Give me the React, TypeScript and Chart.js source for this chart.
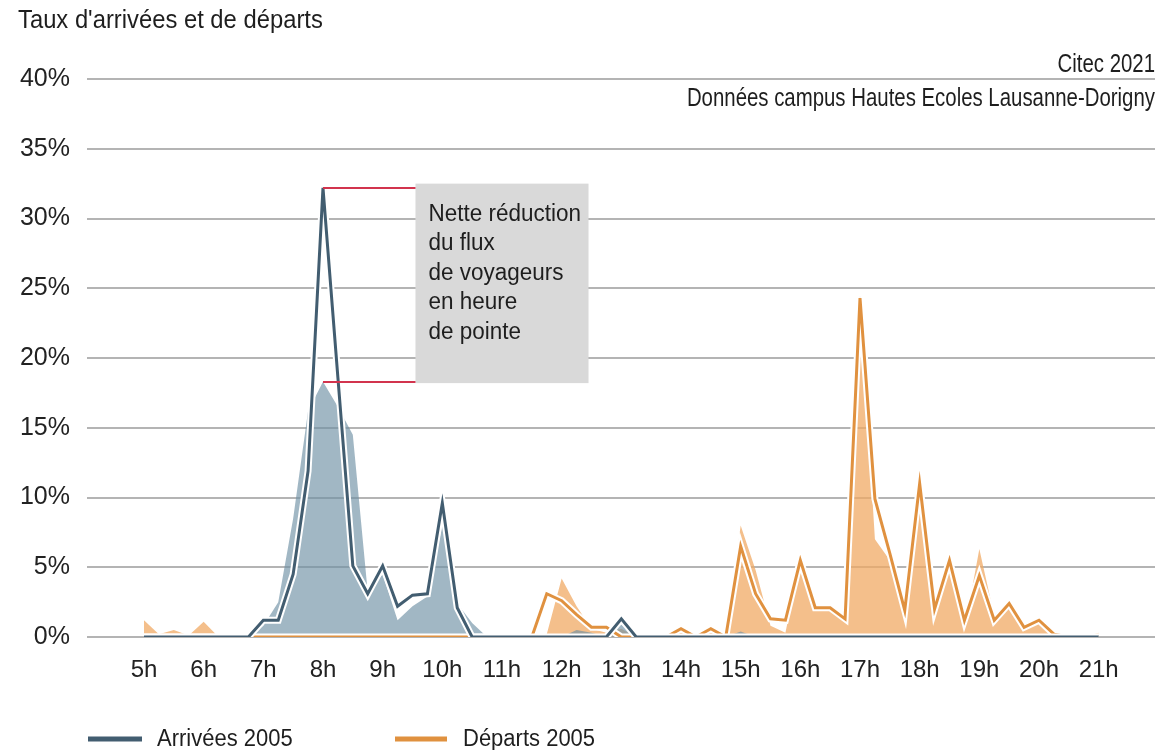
import React, { useEffect, useRef } from 'react';
import { Chart, registerables } from 'chart.js';

Chart.register(...registerables);

// ---- Data (quarter-hour steps) ----
const hours = [
  5, 5.25, 5.5, 5.75, 6, 6.25, 6.5, 6.75, 7, 7.25, 7.5, 7.75, 8, 8.25, 8.5, 8.75,
  9, 9.25, 9.5, 9.75, 10, 10.25, 10.5, 10.75, 11, 11.25, 11.5, 11.75, 12, 12.25, 12.5, 12.75,
  13, 13.25, 13.5, 13.75, 14, 14.25, 14.5, 14.75, 15, 15.25, 15.5, 15.75, 16, 16.25, 16.5, 16.75,
  17, 17.25, 17.5, 17.75, 18, 18.25, 18.5, 18.75, 19, 19.25, 19.5, 19.75, 20, 20.25, 20.5, 20.75, 21,
];

const arrivees2005 = [
  0, 0, 0, 0, 0, 0, 0, 0, 1.2, 1.2, 4.5, 11.9, 32.2, 18.6, 5.1, 3.1,
  5.1, 2.2, 3.0, 3.1, 9.6, 2.1, 0, 0, 0, 0, 0, 0, 0, 0, 0, 0,
  1.3, 0, 0, 0, 0, 0, 0, 0, 0, 0, 0, 0, 0, 0, 0, 0,
  0, 0, 0, 0, 0, 0, 0, 0, 0, 0, 0, 0, 0, 0, 0, 0, 0,
];

const departs2005 = [
  0, 0, 0, 0, 0, 0, 0, 0, 0, 0, 0, 0, 0, 0, 0, 0,
  0, 0, 0, 0, 0, 0, 0, 0, 0, 0, 0, 3.1, 2.6, 1.6, 0.7, 0.7,
  0, 0, 0, 0, 0.6, 0, 0.6, 0, 6.5, 3.1, 1.3, 1.2, 5.5, 2.1, 2.1, 1.3,
  24.3, 9.9, 6.0, 1.9, 11.0, 2.0, 5.5, 1.2, 4.4, 1.2, 2.4, 0.7, 1.2, 0.2, 0, 0, 0,
];

const arrivees2021 = [
  0, 0, 0, 0, 0, 0, 0, 0, 0.8, 2.5, 8.5, 16.2, 18.3, 16.5, 14.5, 3.2,
  4.5, 1.2, 2.2, 2.9, 8.0, 2.4, 1.0, 0, 0, 0, 0, 0, 0, 0.5, 0.3, 0,
  0.9, 0, 0, 0, 0, 0, 0, 0, 0.4, 0, 0, 0, 0, 0, 0, 0,
  0, 0, 0, 0, 0, 0, 0, 0, 0, 0, 0, 0, 0, 0, 0, 0, 0,
];

const departs2021 = [
  1.2, 0.2, 0.5, 0.1, 1.1, 0, 0, 0, 0, 0, 0, 0, 0, 0, 0, 0,
  0, 0, 0, 0, 0, 0, 0, 0, 0, 0, 0, 0.2, 4.2, 2.2, 0.6, 0.3,
  0.6, 0, 0, 0, 0.3, 0, 0.3, 0, 8.0, 4.8, 0.8, 0.3, 5.5, 2.0, 2.0, 1.2,
  24.5, 7.0, 5.5, 1.9, 11.0, 2.0, 5.5, 0.5, 6.3, 1.5, 2.4, 0.7, 1.2, 0.2, 0, 0, 0.3,
];

const tickHours = [5, 6, 7, 8, 9, 10, 11, 12, 13, 14, 15, 16, 17, 18, 19, 20, 21];
const tickLabels = ['5h', '6h', '7h', '8h', '9h', '10h', '11h', '12h', '13h', '14h', '15h', '16h', '17h', '18h', '19h', '20h', '21h'];

const titleText = "Taux d'arrivées et de départs";
const sourceText = 'Citec 2021';
const noteText = 'Données campus Hautes Ecoles Lausanne-Dorigny';
const annotationLines = ['Nette réduction', 'du flux', 'de voyageurs', 'en heure', 'de pointe'];
const legendLabels = ['Arrivées 2005', 'Départs 2005'];

// annotation box in data units: [x from, x to], [y from, y to]
const boxHours = [9.55, 12.45];
const boxPercents = [18.2, 32.5];
const peak2005 = 32.2;
const peak2021 = 18.3;
const peakHour = 8;

const BLUE = '#425d70';
const ORANGE = '#e0913f';
const FONT = "'Liberation Sans', Arial, sans-serif";

function pts(vals: number[]) {
  return vals.map((v, i) => ({ x: hours[i], y: v }));
}

function drawText(ctx: CanvasRenderingContext2D, s: string, x: number, y: number, size: number, align: CanvasTextAlign, sy = 1, color = '#1e1e1e') {
  ctx.save();
  ctx.font = `${size}px ${FONT}`;
  ctx.fillStyle = color;
  ctx.textAlign = align;
  ctx.textBaseline = 'alphabetic';
  ctx.translate(x, y);
  ctx.scale(1, sy);
  ctx.fillText(s, 0, 0);
  ctx.restore();
}

const decorPlugin = {
  id: 'decor',
  afterDatasetsDraw(chart: any) {
    const { ctx, scales } = chart;
    const x = scales.x, y = scales.y;
    const bx0 = x.getPixelForValue(boxHours[0]);
    const bx1 = x.getPixelForValue(boxHours[1]);
    const by0 = y.getPixelForValue(boxPercents[1]);
    const by1 = y.getPixelForValue(boxPercents[0]);
    ctx.save();
    ctx.fillStyle = '#d9d9d9';
    ctx.fillRect(bx0, by0, bx1 - bx0, by1 - by0);
    ctx.strokeStyle = '#d2344e';
    ctx.lineWidth = 2;
    const px = x.getPixelForValue(peakHour);
    [peak2005, peak2021].forEach((p) => {
      const py = Math.round(y.getPixelForValue(p));
      ctx.beginPath();
      ctx.moveTo(px, py);
      ctx.lineTo(bx0, py);
      ctx.stroke();
    });
    ctx.restore();
    annotationLines.forEach((line, i) => {
      drawText(ctx, line, bx0 + 13, by0 + 37 + i * 29.5, 22.5, 'left', 1.03);
    });
  },
  afterDraw(chart: any) {
    const { ctx } = chart;
    drawText(ctx, titleText, 18, 28, 23.8, 'left', 1.06);
    drawText(ctx, sourceText, 1155, 72, 20.4, 'right', 1.25);
    drawText(ctx, noteText, 1155, 106, 20.4, 'right', 1.25);
    // legend
    ctx.save();
    ctx.fillStyle = BLUE;
    ctx.fillRect(88, 736.5, 54, 5);
    ctx.fillStyle = ORANGE;
    ctx.fillRect(395, 736.5, 52, 5);
    ctx.restore();
    drawText(ctx, legendLabels[0], 157, 746, 22, 'left', 1.06);
    drawText(ctx, legendLabels[1], 463, 746, 22, 'left', 1.06);
  },
};

export default function App() {
  const ref = useRef<HTMLCanvasElement | null>(null);
  useEffect(() => {
    if (!ref.current) return;
    const lineBase = {
      type: 'line' as const,
      pointRadius: 0,
      tension: 0,
      borderJoinStyle: 'miter' as const,
    };
    const chart = new Chart(ref.current, {
      type: 'line',
      data: {
        datasets: [
          { ...lineBase, label: 'Arrivées 2005', data: pts(arrivees2005), borderColor: BLUE, borderWidth: 3, fill: false, order: 0 },
          { ...lineBase, label: 'halo-a', data: pts(arrivees2005), borderColor: '#ffffff', borderWidth: 7, fill: false, order: 1 },
          { ...lineBase, label: 'Départs 2005', data: pts(departs2005), borderColor: ORANGE, borderWidth: 3, fill: false, order: 2 },
          { ...lineBase, label: 'halo-d', data: pts(departs2005), borderColor: '#ffffff', borderWidth: 7, fill: false, order: 3 },
          { ...lineBase, label: 'Arrivées 2021', data: pts(arrivees2021), borderWidth: 0, borderColor: 'rgba(0,0,0,0)', backgroundColor: 'rgba(110,145,165,0.65)', fill: 'origin', order: 4 },
          { ...lineBase, label: 'Départs 2021', data: pts(departs2021), borderWidth: 0, borderColor: 'rgba(0,0,0,0)', backgroundColor: 'rgba(240,170,100,0.75)', fill: 'origin', order: 5 },
        ],
      },
      options: {
        animation: false,
        responsive: true,
        maintainAspectRatio: false,
        events: [],
        layout: { padding: { top: 79, right: 6, left: 0, bottom: 0 } },
        plugins: { legend: { display: false }, tooltip: { enabled: false }, title: { display: false } },
        scales: {
          x: {
            type: 'linear',
            min: 4.045,
            max: 21.944,
            border: { display: false },
            grid: { display: false, drawTicks: false },
            afterBuildTicks: (s: any) => { s.ticks = tickHours.map((v) => ({ value: v })); },
            afterFit: (s: any) => { s.height = 113; },
            ticks: {
              autoSkip: false,
              maxRotation: 0,
              padding: 19,
              color: '#222',
              font: { family: FONT, size: 24 },
              callback: (v: any) => tickLabels[tickHours.indexOf(Number(v))] ?? '',
            },
          },
          y: {
            min: 0,
            max: 40,
            border: { display: false },
            grid: { color: '#b4b4b4', lineWidth: 2, drawTicks: false },
            afterFit: (s: any) => { s.width = 87; },
            ticks: {
              stepSize: 5,
              padding: 17,
              color: '#222',
              font: { family: FONT, size: 25 },
              callback: (v: any) => `${v}%`,
            },
          },
        },
      },
      plugins: [decorPlugin],
    });
    return () => chart.destroy();
  }, []);
  return (
    <div style={{ position: 'fixed', left: 0, top: 0, width: 1161, height: 750, background: '#fff' }}>
      <canvas ref={ref} />
    </div>
  );
}
